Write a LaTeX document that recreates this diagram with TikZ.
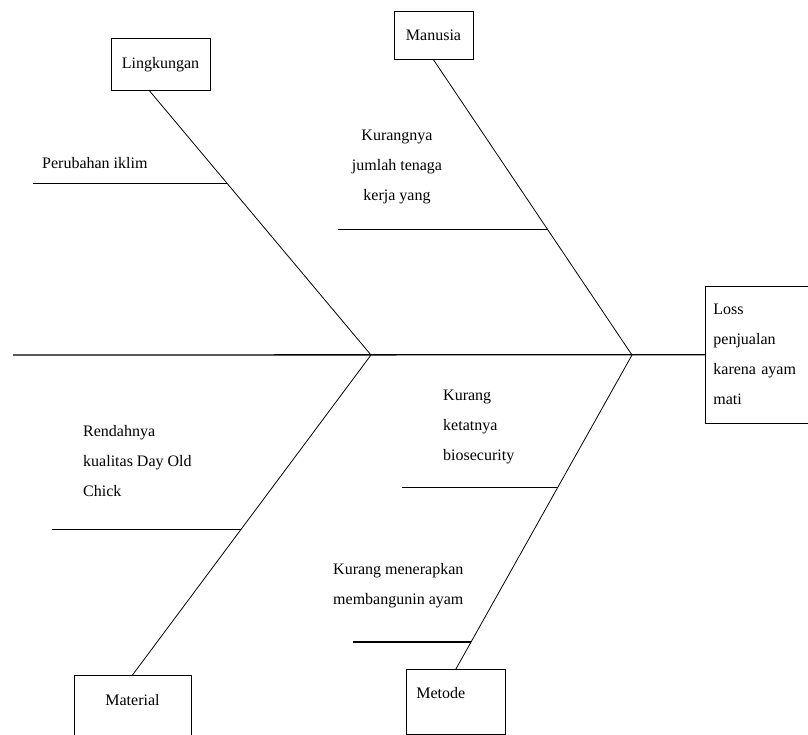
\documentclass[tikz,border=0pt]{standalone}
\usepackage{fontspec}
\setmainfont{Liberation Serif}
\usetikzlibrary{calc}

\tikzset{
  catbox/.style={draw, line width=0.8pt, inner ysep=0pt, minimum width=99pt},
  cause/.style={inner sep=0pt, align=left, anchor=north west},
  bone/.style={line width=0.8pt},
  rib/.style={line width=1.3pt},
}

\begin{document}
\begin{tikzpicture}[x=1pt, y=-1pt, font=\fontsize{16}{30}\selectfont]
\useasboundingbox (0,0) rectangle (808,734);

% Head and spine
\coordinate (tail) at (13,355);
\coordinate (j1) at (371,355);
\coordinate (j2) at (632,355);
\node[draw, line width=0.8pt, anchor=north west, text width=100pt, inner xsep=8pt, inner ysep=18pt, align=left] (head) at (705,286) {Loss\\ penjualan\\ karena ayam\\ mati};
\draw[rib] (tail) -- (head.west);

% Lingkungan
\node[catbox, text height=30pt, text depth=22pt, anchor=north] (ling) at (160.5,38) {Lingkungan};
\draw[bone] ([xshift=-11pt]ling.south) -- (j1);
\coordinate (l1) at ($([xshift=-11pt]ling.south)!0.35!(j1)$);
\draw[rib] (l1) -- (l1 -| 33,0);
\node[cause] (iklim) at (42,157) {Perubahan iklim};

% Manusia
\node[catbox, minimum width=79pt, text height=29pt, text depth=19pt, anchor=north] (man) at (433.5,11) {Manusia};
\draw[bone] (man.south) -- (j2);
\coordinate (m1) at ($(man.south)!0.576!(j2)$);
\draw[rib] (m1) -- (m1 -| 338,0);
\node[inner sep=0pt, align=center, anchor=north] (tenaga) at (397,130) {Kurangnya\\ jumlah tenaga\\ kerja yang};

% Material
\node[catbox, minimum width=117pt, text height=30pt, text depth=36pt, anchor=north] (mat) at (132.5,675) {Material};
\draw[bone] (mat.north) -- (j1);
\coordinate (r1) at ($(j1)!0.545!(mat.north)$);
\draw[rib] (r1) -- (r1 -| 52,0);
\node[cause] (doc) at (83,425) {Rendahnya\\ kualitas Day Old\\ Chick};

% Metode
\node[catbox, text width=79pt, inner xsep=10pt, align=left, text height=29pt, text depth=36pt, anchor=north west] (met) at (406,669) {Metode};
\draw[bone] (met.north) -- (j2);
\coordinate (t1) at ($(j2)!0.422!(met.north)$);
\draw[rib] (t1) -- (t1 -| 402,0);
\coordinate (t2) at ($(j2)!0.914!(met.north)$);
\draw[rib] (t2) -- (t2 -| 353,0);
\node[cause] (bio) at (443,390) {Kurang\\ ketatnya\\ biosecurity};
\node[cause] (kandang) at (333,563) {Kurang menerapkan\\ membangunin ayam};
\end{tikzpicture}
\end{document}
